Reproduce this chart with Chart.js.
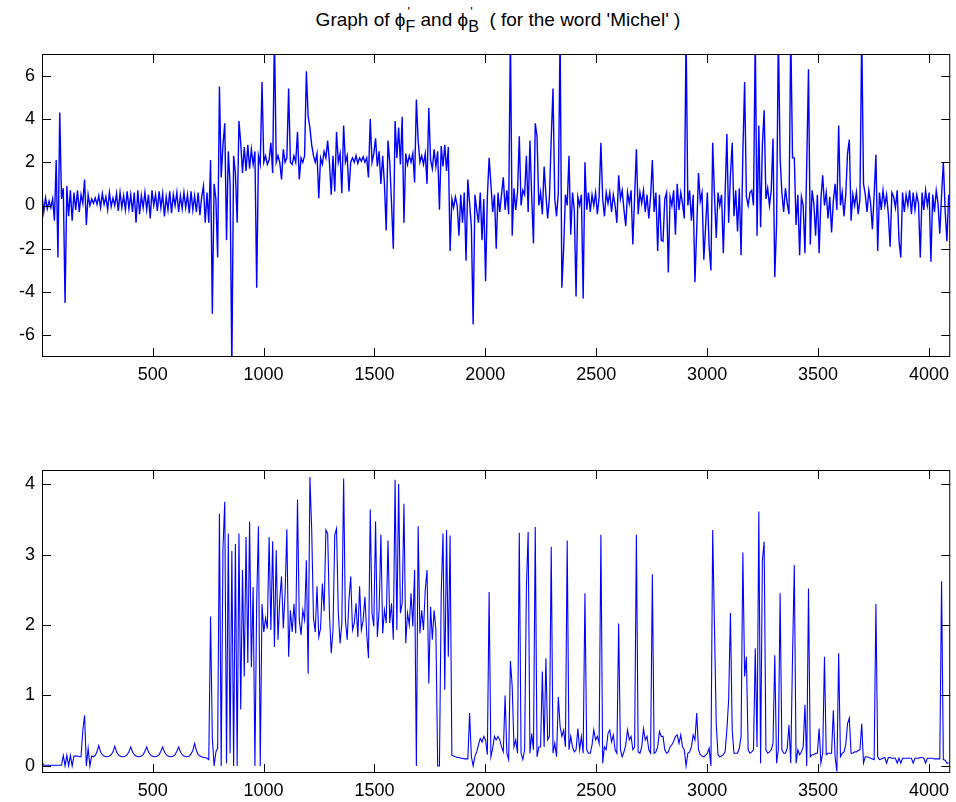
<!DOCTYPE html>
<html>
<head>
<meta charset="utf-8">
<script src="https://cdn.jsdelivr.net/npm/chart.js@4.4.0/dist/chart.umd.min.js"></script>
<style>
    body { margin: 0; background: #fff; width: 956px; height: 802px; position: relative; overflow: hidden;
           font-family: "Liberation Sans", Arial, Helvetica, sans-serif; }
    #title { position: absolute; left: 42px; width: 912px; top: 9px; text-align: center;
             font-size: 19px; line-height: 22px; white-space: pre; color: #000; }
    .ix { display: inline-block; position: relative; font-size: 16px; }
    .ix .pr { position: absolute; left: 2px; top: -9px; font-size: 13px; }
    .ix .sb { position: relative; top: 6px; }
    canvas { position: absolute; left: 0; }
    #top { top: 0; }
    #bottom { top: 420px; }
</style>
</head>
<body>
<div id="title">Graph of ϕ<span class="ix"><span class="pr">'</span><span class="sb">F</span></span> and ϕ<span class="ix"><span class="pr">'</span><span class="sb">B</span></span>  ( for the word 'Michel' )</div>
<canvas id="top" width="956" height="420"></canvas>
<canvas id="bottom" width="956" height="382"></canvas>
<script>
// every 8th sample of the 4096 sample signal, starting at sample 1
const sampleStep = 8

// phi'_F (upper plot), 16 values per row = 128 samples
const phiF = [
    0.5, -0.3, 0.35, -0.15, 0.2, -0.1, 0.3, -0.7, 2.1, -2.4, 4.3, 0.3, 0.8, -4.5, 0.9, -0.5,
    0.7, -0.7, 0.6, -0.2, 0.7, -0.3, 0.5, 0.1, 1.2, -0.9, 0.5, 0.0, 0.3, 0.1, 0.35, 0.05,
    0.45, -0.1, 0.55, 0.05, 0.4, -0.2, 0.6, -0.05, 0.35, 0.0, 0.55, -0.25, 0.6, -0.1, 0.45, -0.2,
    0.65, -0.15, 0.5, -0.3, 0.6, -0.8, 0.7, -0.4, 0.45, -0.1, 0.6, -0.2, 0.5, -0.6, 0.7, 0.0,
    0.5, -0.25, 0.65, -0.1, 0.55, -0.5, 0.4, -0.2, 0.65, -0.35, 0.5, 0.0, 0.6, -0.3, 0.45, -0.15,
    0.6, -0.1, 0.5, -0.35, 0.65, -0.2, 0.45, -0.3, 0.6, -0.45, 0.4, 0.9, -0.8, 0.6, -0.8, 2.1,
    -5.0, 1.0, 0.3, -2.4, 5.5, 1.3, 2.8, 3.8, -1.6, 2.5, 1.0, -7.5, 2.3, 1.5, -0.8, 3.9,
    2.9, 1.5, 2.7, 1.6, 2.8, 1.7, 2.6, 1.9, 2.5, -3.8, 2.3, 1.9, 5.7, 2.0, 2.3, 1.9,
    2.1, 2.9, 1.5, 8, 2.0, 2.3, 2.0, 1.2, 2.6, 2.0, 2.2, 5.4, 2.0, 1.9, 2.3, 2.0,
    3.4, 1.2, 2.2, 2.0, 2.3, 6.2, 4.1, 3.6, 2.8, 2.3, 2.0, 2.4, 0.34, 2.2, 1.9, 2.5,
    2.2, 3.0, 2.0, 0.5, 2.3, 0.65, 3.4, 2.0, 2.4, 0.57, 3.7, 2.0, 2.3, 0.65, 2.0, 2.2,
    2.0, 2.3, 1.95, 2.2, 2.05, 2.25, 2.0, 2.2, 1.3, 4.0, 2.0, 2.4, 3.1, 1.8, 2.5, 1.0,
    2.3, 1.0, -1.15, 3.0, 2.0, 0.1, -2.0, 3.9, 2.2, 3.6, 1.9, 4.1, -0.8, 2.4, 1.9, 2.3,
    2.0, 2.4, 1.06, 4.9, 3.0, 2.0, 2.3, 1.9, 2.4, 1.0, 4.5, 2.1, 1.7, 2.6, 1.8, 2.5,
    -0.2, 2.75, 1.8, 2.8, 1.6, 2.7, -2.1, 0.3, -0.1, 0.4, 0.0, -1.4, 0.5, -0.8, 0.6, -2.55,
    1.2, 0.1, -1.0, -5.5, 0.5, -0.2, -0.8, 0.6, -1.6, 0.3, -3.5, 0.4, 2.2, 1.0, -0.3, 0.5,
    -2.0, 0.6, -0.3, 0.5, 1.3, -0.2, 0.7, -0.4, 8, -1.4, 0.8, -0.2, 0.6, 3.2, 0.0, 0.7,
    0.5, 2.3, -0.3, 3.0, 0.4, -1.75, 3.8, 3.2, 0.0, 0.6, -0.4, 1.8, 0.5, -0.6, 0.4, 3.1,
    5.4, 0.3, -0.5, 0.6, 8, -3.8, -2.0, 0.5, 0.0, 2.3, -1.35, 0.6, -0.2, -4.2, 0.4, 0.0,
    0.5, -4.3, 2.0, -0.2, 0.6, -0.3, 0.5, 0.0, 0.6, -0.4, 0.4, 2.9, 0.3, -0.5, 0.6, 0.1,
    0.6, -0.3, 0.5, 0.0, -0.8, 1.4, 0.3, 0.7, -0.2, -0.95, 0.6, 0.1, 0.7, -1.8, 0.4, 2.6,
    -0.4, 0.6, 0.1, 0.7, -0.3, 0.5, -0.6, 0.4, 2.1, -0.3, 0.6, -2.1, 0.5, -1.6, -1.65, 0.3,
    0.6, -3.1, 0.4, 0.0, 0.7, -1.35, 1.0, -0.2, 0.6, 0.1, -0.6, 8, 0.0, 0.7, -0.7, 0.5,
    -3.55, -1.1, 1.5, 0.2, 0.6, -2.5, -1.0, 0.6, -1.9, -3.0, 2.9, 0.5, -1.5, 0.6, 0.0, 0.5,
    -2.2, 0.5, 3.3, -0.8, 1.4, 2.9, -0.5, 0.7, -1.2, 0.8, -2.3, 2.4, 5.7, 0.4, 0.0, 0.6,
    0.7, 0.0, 8, -1.4, 3.7, -1.0, 2.8, 4.4, 0.3, 0.8, 0.0, 0.7, 3.1, -3.3, -0.9, 8,
    2.2, 0.6, -0.3, 0.8, 0.1, -0.4, 8, 2.2, 2.2, -0.9, 0.5, -2.3, 0.4, 0.0, -2.2, 1.85,
    6.3, -1.8, 0.7, 0.1, -1.4, 0.5, -2.2, 0.3, 1.4, 0.0, 0.6, -0.6, 0.4, -1.25, 0.2, 1.0,
    -0.2, 3.7, 0.0, 0.6, -0.5, 0.5, 2.4, 3.05, -0.7, 0.5, 0.0, 0.6, -0.4, 0.3, 8, 1.0,
    0.5, -0.3, 0.7, 0.1, -1.1, 0.5, 2.35, -2.1, 0.6, -0.2, 0.7, 0.0, 0.5, -0.4, -1.9, 0.6,
    0.4, -0.1, 0.7, -1.6, -2.4, 0.6, -0.3, 0.5, 0.0, 0.7, -0.4, 0.6, -0.2, 0.5, 0.1, -2.4,
    0.6, -0.2, 0.7, 0.0, 0.6, -2.6, 0.5, -0.3, 0.7, 0.1, -1.3, 0.5, 2.0, -0.2, -1.65, 0.5,
]

// phi'_B (lower plot)
const phiB = [
    0.06, 0.01, 0.01, 0.01, 0.01, 0.01, 0.01, 0.01, 0.01, 0.01, 0.01, 0.01, 0.15, 0.0, 0.15, 0.0,
    0.15, 0.0, 0.14, 0.14, 0.14, 0.13, 0.13, 0.5, 0.72, 0.0, 0.25, 0.0, 0.14, 0.13, 0.15, 0.2,
    0.29, 0.2, 0.16, 0.14, 0.13, 0.13, 0.14, 0.16, 0.2, 0.28, 0.2, 0.16, 0.14, 0.13, 0.13, 0.14,
    0.16, 0.2, 0.27, 0.2, 0.16, 0.14, 0.13, 0.13, 0.14, 0.16, 0.21, 0.27, 0.2, 0.16, 0.14, 0.13,
    0.13, 0.14, 0.16, 0.21, 0.27, 0.2, 0.16, 0.14, 0.13, 0.13, 0.14, 0.16, 0.21, 0.27, 0.2, 0.16,
    0.14, 0.13, 0.13, 0.14, 0.17, 0.22, 0.32, 0.22, 0.16, 0.14, 0.13, 0.12, 0.12, 0.11, 0.09, 2.12,
    0.4, 0.0, 0.2, 0.25, 3.58, 0.0, 3.09, 3.75, 0.04, 3.3, 0.18, 3.05, 0.0, 3.15, 0.0, 3.3,
    0.8, 2.78, 1.27, 3.25, 1.46, 3.47, 1.4, 2.54, 0.0, 2.34, 3.4, 0.0, 2.3, 1.9, 2.1, 1.95,
    3.25, 1.93, 3.19, 1.69, 3.06, 1.79, 2.36, 2.69, 1.95, 2.45, 3.36, 1.55, 2.21, 1.9, 2.3, 1.88,
    3.78, 2.07, 1.86, 2.21, 2.07, 2.92, 1.31, 4.1, 3.36, 2.1, 1.9, 2.55, 1.83, 1.95, 2.59, 2.2,
    3.35, 3.3, 2.17, 1.6, 1.93, 3.28, 3.37, 2.17, 1.74, 2.03, 4.08, 2.07, 1.79, 2.36, 2.69, 1.93,
    2.03, 2.31, 1.83, 2.55, 1.93, 2.07, 2.4, 1.88, 1.53, 3.64, 2.17, 1.98, 3.47, 1.83, 2.21, 3.28,
    1.88, 2.21, 2.03, 3.2, 2.03, 2.31, 1.79, 4.06, 1.93, 4.0, 2.17, 2.31, 3.72, 1.74, 2.17, 2.0,
    2.45, 1.98, 2.78, 0.0, 3.4, 1.88, 2.21, 1.93, 2.5, 2.78, 1.17, 2.26, 1.79, 2.21, 1.93, 0.0,
    0.0, 2.45, 3.3, 1.08, 3.35, 1.55, 3.27, 0.15, 0.14, 0.13, 0.12, 0.12, 0.11, 0.11, 0.1, 0.1,
    0.1, 0.75, 0.13, 0.0, 0.14, 0.2, 0.3, 0.39, 0.34, 0.42, 0.37, 0.16, 2.47, 0.13, 0.25, 0.42,
    0.37, 0.42, 0.37, 0.27, 0.2, 1.0, 0.18, 0.09, 1.49, 1.13, 0.27, 0.37, 0.18, 3.31, 0.18, 0.09,
    0.23, 2.52, 3.32, 0.18, 0.46, 0.23, 3.39, 0.13, 0.27, 0.27, 1.34, 0.27, 1.53, 0.37, 0.42, 3.11,
    0.18, 0.32, 0.13, 0.98, 0.56, 0.42, 0.51, 0.27, 3.2, 0.23, 0.42, 0.27, 0.2, 0.23, 0.53, 0.23,
    0.42, 0.18, 2.45, 0.23, 0.18, 0.18, 0.3, 0.51, 0.37, 0.42, 0.32, 3.28, 0.04, 0.27, 0.23, 0.46,
    0.51, 0.34, 0.44, 0.23, 0.18, 2.02, 0.23, 0.13, 0.2, 0.3, 0.51, 0.37, 0.42, 0.23, 0.27, 3.28,
    0.2, 0.18, 0.27, 0.53, 0.37, 0.42, 0.23, 0.18, 2.72, 0.18, 0.2, 0.27, 0.49, 0.42, 0.42, 0.23,
    0.18, 0.2, 0.27, 0.3, 0.35, 0.42, 0.44, 0.32, 0.44, 0.27, 0.23, 0.0, 0.18, 0.2, 0.27, 0.44,
    0.37, 0.75, 0.23, 0.16, 0.14, 0.13, 0.15, 0.18, 0.25, 0.0, 3.35, 1.98, 0.6, 0.16, 0.13, 0.14,
    0.16, 0.2, 0.51, 0.94, 2.17, 0.51, 0.18, 0.18, 0.18, 0.25, 0.42, 3.03, 1.27, 1.55, 0.23, 0.18,
    0.2, 0.23, 1.67, 0.27, 3.61, 0.04, 2.92, 3.18, 0.23, 0.18, 0.2, 0.23, 0.32, 1.57, 0.04, 0.23,
    2.45, 0.23, 0.18, 0.18, 0.25, 0.58, 0.04, 1.55, 2.85, 0.04, 0.23, 0.16, 0.2, 0.27, 0.87, 0.0,
    2.52, 0.13, 0.16, 0.16, 0.18, 0.18, 0.53, 0.04, 0.18, 1.55, 0.16, 0.18, 0.18, 0.18, 0.79, 0.13,
    -0.08, 1.6, 0.13, 0.18, 0.2, 0.3, 0.6, 0.68, 0.18, 0.18, 0.2, 0.2, 0.22, 0.23, 0.6, 0.04,
    0.13, 0.13, 0.12, 0.11, 0.1, 0.09, 2.3, 0.13, 0.09, 0.1, 0.11, 0.12, 0.04, 0.12, 0.12, 0.11,
    0.11, 0.11, 0.04, 0.11, 0.04, 0.11, 0.11, 0.11, 0.11, 0.11, 0.11, 0.04, 0.11, 0.11, 0.11, 0.12,
    0.12, 0.11, 0.04, 0.11, 0.11, 0.11, 0.11, 0.1, 0.1, 0.1, 0.1, 2.62, 0.09, 0.08, 0.04, 0.04,
]

const xTicks = [500, 1000, 1500, 2000, 2500, 3000, 3500, 4000]
const yTicksTop = [-6, -4, -2, 0, 2, 4, 6]
const yTicksBottom = [0, 1, 2, 3, 4]

const tickFont = { family: '"Liberation Sans", Arial, Helvetica, sans-serif', size: 18 }

function toPoints(values) {
    return values.map((v, i) => ({ x: 1 + i * sampleStep, y: v }))
}

// matlab style box with inward tick marks on all four sides
const boxPlugin = {
    id: 'box',
    afterDraw(chart) {
        const { ctx, chartArea: a, scales } = chart
        ctx.save()
        ctx.strokeStyle = '#000'
        ctx.lineWidth = 1
        ctx.beginPath()
        for (const t of scales.x.ticks) {
            const px = Math.round(scales.x.getPixelForValue(t.value)) + 0.5
            ctx.moveTo(px, a.bottom); ctx.lineTo(px, a.bottom - 9)
            ctx.moveTo(px, a.top); ctx.lineTo(px, a.top + 9)
        }
        for (const t of scales.y.ticks) {
            const py = Math.round(scales.y.getPixelForValue(t.value)) + 0.5
            ctx.moveTo(a.left, py); ctx.lineTo(a.left + 9, py)
            ctx.moveTo(a.right, py); ctx.lineTo(a.right - 9, py)
        }
        ctx.stroke()
        ctx.strokeRect(a.left + 0.5, a.top + 0.5, a.width - 1, a.height - 1)
        ctx.restore()
    }
}

function makeChart(canvas, values, yMin, yMax, yTicks, topPad, xHeight, lineWidth) {
    return new Chart(canvas, {
        type: 'line',
        data: {
            datasets: [
                {
                    data: toPoints(values),
                    borderColor: '#0000ff',
                    borderWidth: lineWidth,
                    pointRadius: 0,
                    tension: 0,
                    fill: false,
                },
            ]
        },
        options: {
            responsive: false,
            animation: false,
            devicePixelRatio: 1,
            layout: { padding: { top: topPad, right: 2, left: 0, bottom: 0 } },
            plugins: {
                legend: false,
                tooltip: { enabled: false },
            },
            scales: {
                x: {
                    type: 'linear',
                    min: 1,
                    max: 4096,
                    grid: { display: false, drawTicks: false },
                    border: { display: false },
                    ticks: { color: '#000', font: tickFont, padding: 7, maxRotation: 0, callback: (v) => String(v) },
                    afterBuildTicks: (scale) => { scale.ticks = xTicks.map(v => ({ value: v })) },
                    afterFit: (scale) => { scale.height = xHeight },
                },
                y: {
                    min: yMin,
                    max: yMax,
                    grid: { display: false, drawTicks: false },
                    border: { display: false },
                    ticks: { color: '#000', font: tickFont, padding: 7, callback: (v) => String(v) },
                    afterBuildTicks: (scale) => { scale.ticks = yTicks.map(v => ({ value: v })) },
                    afterFit: (scale) => { scale.width = 42 },
                },
            }
        },
        plugins: [boxPlugin],
    })
}

makeChart(document.getElementById('top'), phiF, -7, 7, yTicksTop, 54, 63, 1.4)
makeChart(document.getElementById('bottom'), phiB, -0.1, 4.2, yTicksBottom, 50, 29, 1.1)
</script>
</body>
</html>
